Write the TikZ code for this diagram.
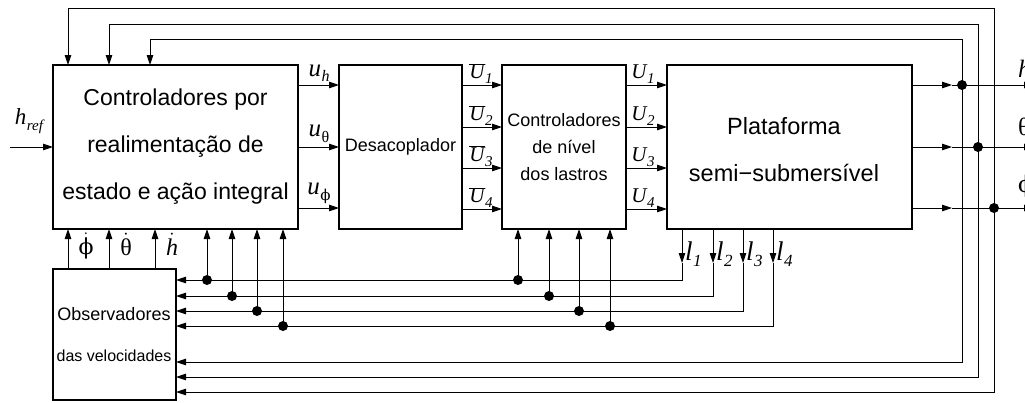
\documentclass[tikz,border=0pt]{standalone}
\usepackage{fontspec}
\setmainfont{Liberation Sans}
\newfontfamily\lbl{Liberation Serif}
\newfontfamily\grk{DejaVu Serif}
\usetikzlibrary{arrows.meta}
\newcommand\fs[1]{\fontsize{#1}{#1}\selectfont}
% italic letter with a lowered subscript: size, letter, subscript size, subscript
\newcommand\var[4]{{\lbl\fs{#1}\itshape #2\kern0.5pt\raisebox{-0.5ex}{\fs{#3}#4}}}
\newcommand\Ubar[1]{{\lbl\fs{21}\itshape$\overline{\hbox{U}}$\kern0.5pt\raisebox{-0.5ex}{\fs{15}#1}}}
\newcommand\vphi{{\grk\upshape ϕ}}

\begin{document}
\begin{tikzpicture}[x=1pt,y=-1pt,
  blk/.style={draw,line width=2.6pt,anchor=north west,outer sep=0pt,inner sep=0pt,align=center},
  wire/.style={line width=0.9pt},
  arr/.style={wire,-{Triangle[length=10pt,width=6.5pt]}},
  jdot/.style={circle,fill,inner sep=0pt,minimum size=10pt},
  lab/.style={inner sep=0pt}]
\useasboundingbox (0,0) rectangle (1025,402);

% blocks
\node[blk,minimum width=245pt,minimum height=164pt,font=\fontsize{23}{47}\selectfont] (ctl) at (53,65)
  {Controladores por\\realimentação de\\estado e ação integral};
\node[blk,minimum width=123pt,minimum height=164pt,font=\fs{18}] (dec) at (339,65) {Desacoplador};
\node[blk,minimum width=124pt,minimum height=164pt,font=\fontsize{18}{27}\selectfont] (lev) at (502,65)
  {Controladores\\de nível\\dos lastros};
\node[blk,minimum width=245pt,minimum height=164pt] (plat) at (667,65) {};
\node[align=center,font=\fontsize{23.5}{47}\selectfont] (plattxt) at (784,150) {Plataforma\\semi−submersível};
\node[blk,minimum width=123pt,minimum height=131pt] (obs) at (53,269) {};
\node[font=\fs{18}] (obs1) at (114,314) {Observadores};
\node[font=\fs{16}] (obs2) at (114,356) {das velocidades};

% signal levels
\coordinate (a1) at (0,85);  \coordinate (a2) at (0,147); \coordinate (a3) at (0,208);
\coordinate (b1) at (0,85);  \coordinate (b2) at (0,127); \coordinate (b3) at (0,168); \coordinate (b4) at (0,209);

% reference input
\coordinate (href) at (10,147);
\draw[arr] (href) -- (ctl.west |- href);
\node[lab] (hreflab) at (29,121) {\var{23}{h}{15}{\itshape ref}};

% forward path
\foreach \i in {1,2,3} \draw[arr] (ctl.east |- a\i) -- (dec.west |- a\i);
\foreach \i in {1,...,4} \draw[arr] (dec.east |- b\i) -- (lev.west |- b\i);
\foreach \i in {1,...,4} \draw[arr] (lev.east |- b\i) -- (plat.west |- b\i);

\node[lab,anchor=south] (uh) at (319,82) {\var{25}{u}{16}{\itshape h}};
\node[lab,anchor=south] (ut) at (319,143) {\var{25}{u}{16}{\upshape θ}};
\node[lab,anchor=south] (uf) at (319,204) {\var{25}{u}{15}{\vphi}};

\node[lab,anchor=south] (ub1) at (481,84) {\Ubar{1}};
\node[lab,anchor=south] (ub2) at (481,126) {\Ubar{2}};
\node[lab,anchor=south] (ub3) at (481,167) {\Ubar{3}};
\node[lab,anchor=south] (ub4) at (481,208) {\Ubar{4}};

\node[lab,anchor=south] (u1) at (643,84) {\var{21}{U}{15}{\itshape 1}};
\node[lab,anchor=south] (u2) at (643,126) {\var{21}{U}{15}{\itshape 2}};
\node[lab,anchor=south] (u3) at (643,167) {\var{21}{U}{15}{\itshape 3}};
\node[lab,anchor=south] (u4) at (643,208) {\var{21}{U}{15}{\itshape 4}};

% outputs of the platform and state feedback
\foreach \i/\yy/\xd/\yt/\xt/\yb in {1/85/962/39/150/362, 2/147/978/24/109/377, 3/208/994/8/68/392} {
  \coordinate (t\i) at (952,\yy);
  \coordinate (e\i) at (1034,\yy);
  \coordinate (f\i) at (\xt,\yt);
  \coordinate (g\i) at (0,\yb);
  \node[jdot] (d\i) at (\xd,\yy) {};
  \draw[arr] (plat.east |- t\i) -- (t\i);
  \draw[wire] (t\i) -- (d\i.center);
  \draw[arr] (d\i.center) -- (e\i);
  \draw[arr] (d\i.center) |- (f\i) -- (ctl.north -| f\i);
  \draw[arr] (d\i.center) |- (obs.east |- g\i);
}
\node[lab,anchor=west,font=\fs{25}] (yh) at (1018,69) {\lbl\itshape h};
\node[lab,anchor=west,font=\fs{25}] (yt) at (1018,127) {\lbl θ};
\node[lab,anchor=west,font=\fs{23}] (yf) at (1018,186) {\vphi};

% ballast levels
\foreach \i/\xl/\yy/\xp/\xq in {1/682/280/518/207, 2/713/296/549/232, 3/743/311/579/257, 4/773/326/610/283} {
  \coordinate (lt\i) at (\xl,263);
  \coordinate (h\i) at (0,\yy);
  \draw[arr] (plat.south -| lt\i) -- (lt\i);
  \draw[arr] (lt\i) |- (obs.east |- h\i);
  \node[jdot] (p\i) at (\xp,\yy) {};
  \node[jdot] (q\i) at (\xq,\yy) {};
  \draw[arr] (p\i.center) -- (lev.south -| p\i);
  \draw[arr] (q\i.center) -- (ctl.south -| q\i);
  \node[lab,anchor=west] (ll\i) at ([xshift=3pt]\xl,254) {\var{27}{l}{17}{\itshape \i}};
}

% estimated velocities
\foreach \i/\xv in {1/68,2/109,3/155} {
  \coordinate (v\i) at (\xv,0);
  \draw[arr] (obs.north -| v\i) -- (ctl.south -| v\i);
}
\node[lab,font=\fs{22}] (phid) at (86,246) {$\dot{\hbox{\vphi}}$};
\node[lab,font=\fs{24}] (thd) at (126,244) {$\dot{\hbox{\lbl θ}}$};
\node[lab,font=\fs{24}] (hd) at (172,244) {$\dot{\hbox{\lbl\itshape h}}$};
\end{tikzpicture}
\end{document}
